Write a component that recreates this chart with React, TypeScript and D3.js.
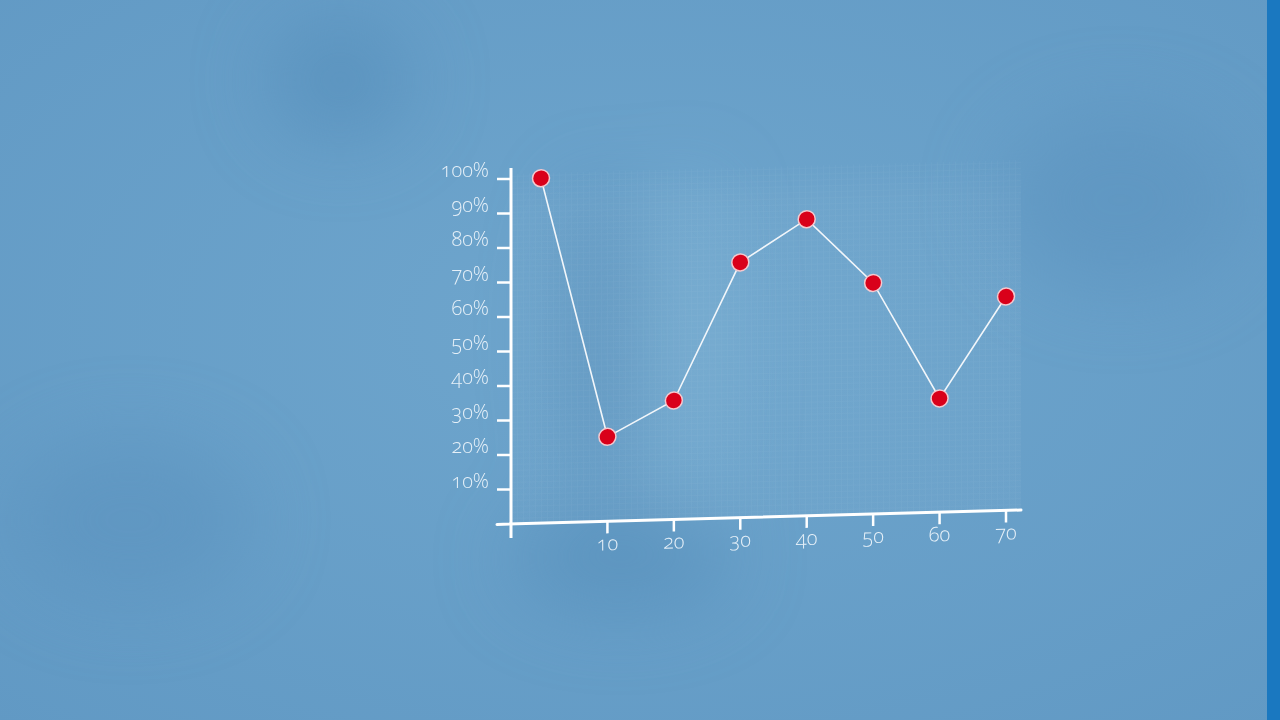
import React from "react";
import * as d3 from "d3";

const xValues = [0, 10, 20, 30, 40, 50, 60, 70];
const yValues = [100, 24.5, 34.5, 74, 86, 67, 33, 62];
const xTicks = [10, 20, 30, 40, 50, 60, 70];
const yTicks = [10, 20, 30, 40, 50, 60, 70, 80, 90, 100];

const W = 1280;
const H = 720;
const OX = 511;
const OY = 524;
const SKEW = (Math.atan(-14 / 510) * 180) / Math.PI;

export default function App() {
  const x = d3.scaleLinear().domain([0, 70]).range([30, 495]);
  const y = d3.scaleLinear().domain([0, 100]).range([0, -345]);
  const line = d3
    .line<number>()
    .x((_, i) => x(xValues[i]))
    .y((d) => y(d));
  const font = "'Open Sans', Lato, sans-serif";
  const txt = "#e6f0f8";
  const numStyle = {
    fontVariantNumeric: "oldstyle-nums",
    fontFeatureSettings: "'onum' 1",
  } as React.CSSProperties;

  return (
    <svg
      width={W}
      height={H}
      style={{ position: "fixed", left: 0, top: 0 }}
      viewBox={`0 0 ${W} ${H}`}
    >
      <defs>
        <radialGradient id="bg" cx="0.5" cy="0.45" r="0.75">
          <stop offset="0" stopColor="#6fa6cd" />
          <stop offset="1" stopColor="#6199c4" />
        </radialGradient>
        <filter id="blur" x="-50%" y="-50%" width="200%" height="200%">
          <feGaussianBlur stdDeviation="40" />
        </filter>
        <pattern id="grid" width="6" height="6" patternUnits="userSpaceOnUse">
          <path d="M6 0 L0 0 0 6" fill="none" stroke="#ffffff" strokeOpacity="0.05" strokeWidth="1" />
        </pattern>
        <linearGradient id="panelFade" x1="0" y1="1" x2="0" y2="0">
          <stop offset="0" stopColor="#ffffff" stopOpacity="0.03" />
          <stop offset="0.9" stopColor="#ffffff" stopOpacity="0.03" />
          <stop offset="1" stopColor="#ffffff" stopOpacity="0" />
        </linearGradient>
      </defs>
      <rect width={W} height={H} fill="url(#bg)" />
      <g filter="url(#blur)" opacity="0.5">
        <ellipse cx={340} cy={80} rx={70} ry={60} fill="#4f88b6" />
        <ellipse cx={620} cy={560} rx={110} ry={50} fill="#5088b5" />
        <ellipse cx={130} cy={520} rx={120} ry={80} fill="#5a91bd" />
        <ellipse cx={600} cy={340} rx={40} ry={160} fill="#4f86b3" />
        <ellipse cx={690} cy={340} rx={30} ry={170} fill="#80b4d6" />
        <ellipse cx={1120} cy={200} rx={120} ry={90} fill="#5a91bd" />
      </g>
      <rect x={1267} y={0} width={13} height={H} fill="#1a78c0" />

      <g transform={`translate(${OX},${OY}) skewY(${SKEW})`}>
        <rect x={0} y={-350} width={510} height={350} fill="url(#panelFade)" />
        <rect x={0} y={-350} width={510} height={350} fill="url(#grid)" />
        <line x1={-14} x2={510} y1={0} y2={0} stroke="#ffffff" strokeWidth={3} strokeLinecap="round" />
        {xTicks.map((t) => (
          <g key={t} transform={`translate(${x(t)},0)`}>
            <line y1={0} y2={12} stroke="#ffffff" strokeWidth={2.5} />
            <text
              y={29}
              textAnchor="middle"
              fontFamily={font}
              fontWeight={300}
              fontSize={20}
              fill={txt}
              style={numStyle}
            >
              {t}
            </text>
          </g>
        ))}
        <path d={line(yValues) || ""} fill="none" stroke="#f2f6fa" strokeWidth={1.6} />
        {yValues.map((v, i) => (
          <circle
            key={i}
            cx={x(xValues[i])}
            cy={y(v)}
            r={8.5}
            fill="#d9001a"
            stroke="#f4c9cf"
            strokeWidth={1.5}
          />
        ))}
      </g>

      <g transform={`translate(${OX},${OY})`}>
        <line x1={0} x2={0} y1={-356} y2={14} stroke="#ffffff" strokeWidth={3} />
        {yTicks.map((t) => (
          <g key={t} transform={`translate(0,${y(t)})`}>
            <line x1={-14} x2={0} stroke="#ffffff" strokeWidth={2.5} />
            <text
              x={-22}
              y={-2}
              textAnchor="end"
              fontFamily={font}
              fontWeight={300}
              fontSize={20}
              fill={txt}
              style={numStyle}
            >
              {`${t}%`}
            </text>
          </g>
        ))}
      </g>
    </svg>
  );
}
